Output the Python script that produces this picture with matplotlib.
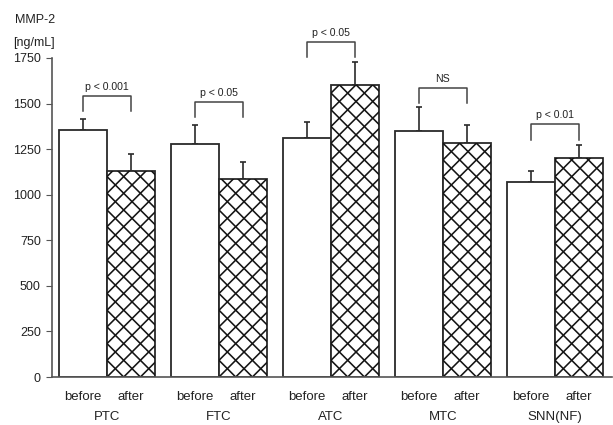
import numpy as np
import matplotlib.pyplot as plt
from matplotlib.collections import LineCollection

plt.rcParams['font.family'] = ['Liberation Sans', 'DejaVu Sans']

groups = ['PTC', 'FTC', 'ATC', 'MTC', 'SNN(NF)']
before = [1355, 1278, 1313, 1349, 1071]
before_err = [58, 104, 87, 134, 59]
after = [1130, 1084, 1602, 1282, 1203]
after_err = [91, 97, 128, 100, 70]
p_labels = ['p < 0.001', 'p < 0.05', 'p < 0.05', 'NS', 'p < 0.01']
bracket_top = [1543, 1510, 1839, 1587, 1385]
bracket_leg = 84

x = np.arange(len(groups))
w = 0.429
edge = '#2a2a2a'

fig = plt.figure(figsize=(6.13, 4.25), dpi=100)
ax = fig.add_axes([52 / 613, 48 / 425, 560 / 613, 346.4 / 425])
ax.set_xlim(-0.491, 4.509)
ax.set_ylim(0, 1900)

ax.bar(x - w / 2, before, w, color='white', edgecolor=edge, linewidth=1.3, zorder=2)
after_bars = ax.bar(x + w / 2, after, w, color='white', edgecolor=edge,
                    linewidth=1.3, zorder=2)

# cross-hatch for the "after" bars, 45 degree lines in pixel space
px_x = 560 / (4.509 + 0.491)      # pixels per x unit
px_y = 346.4 / 1900               # pixels per y unit
step = 16.7                       # hatch spacing in pixels
for bar in after_bars:
    x0, h = bar.get_x(), bar.get_height()
    span = (bar.get_width() * px_x + h * px_y) / step + 2
    segs = []
    for k in range(-int(span), int(span) + 1):
        xs = x0 + k * step / px_x
        dx = 400 / px_x
        dy = 400 / px_y
        segs.append([(xs, 0), (xs + dx, dy)])
        segs.append([(xs, 0), (xs - dx, dy)])
    lc = LineCollection(segs, colors='#141414', linewidths=1.15, zorder=2.5)
    ax.add_collection(lc)
    lc.set_clip_path(bar)

# upper error bars only
ax.errorbar(x - w / 2, before, yerr=[np.zeros(len(x)), before_err], fmt='none',
            ecolor=edge, elinewidth=1.2, capsize=2.2, capthick=1.2, zorder=1)
ax.errorbar(x + w / 2, after, yerr=[np.zeros(len(x)), after_err], fmt='none',
            ecolor=edge, elinewidth=1.2, capsize=2.2, capthick=1.2, zorder=1)

# significance brackets
for i in range(len(groups)):
    top = bracket_top[i]
    ax.plot([x[i] - w / 2, x[i] - w / 2, x[i] + w / 2, x[i] + w / 2],
            [top - bracket_leg, top, top, top - bracket_leg],
            color='#444444', lw=1.1, clip_on=False)
    ax.text(x[i], top + 22, p_labels[i], ha='center', va='bottom',
            fontsize=7.6, color='#222222')

ax.set_yticks([0, 250, 500, 750, 1000, 1250, 1500, 1750])
ax.spines['left'].set_bounds(0, 1750)
ax.spines['top'].set_visible(False)
ax.spines['right'].set_visible(False)
for s in ('left', 'bottom'):
    ax.spines[s].set_color('#555555')
    ax.spines[s].set_linewidth(1.2)
ax.tick_params(axis='y', length=4, color='#555555', labelsize=9,
               labelcolor='#222222', pad=4)
ax.set_xticks([])

for i, g in enumerate(groups):
    ax.text(x[i] - w / 2, -112, 'before', ha='center', va='center', fontsize=9.5,
            color='#222222')
    ax.text(x[i] + w / 2, -112, 'after', ha='center', va='center', fontsize=9.5,
            color='#222222')
    ax.text(x[i], -222, g, ha='center', va='center', fontsize=9.5,
            color='#222222')

fig.text(15 / 613, 1 - 20 / 425, 'MMP-2', ha='left', va='center', fontsize=9,
         color='#222222')
fig.text(13 / 613, 1 - 43 / 425, '[ng/mL]', ha='left', va='center', fontsize=9,
         color='#222222')

fig.savefig('out.png', dpi=100)
